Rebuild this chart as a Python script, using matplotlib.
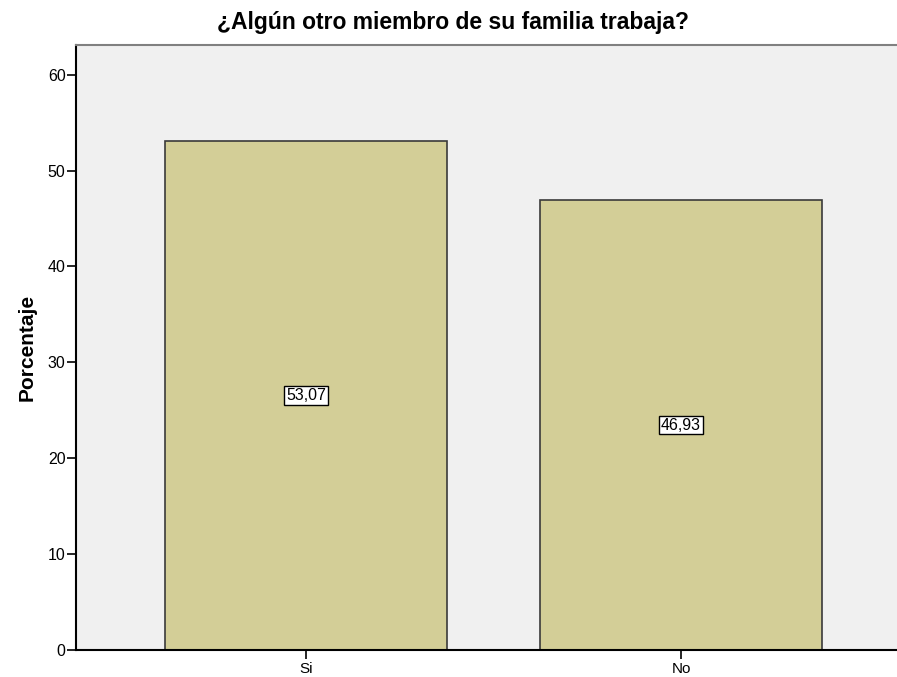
import numpy as np
import matplotlib.pyplot as plt

categorias = ['Si', 'No']
porcentajes = [53.07, 46.93]
etiquetas = ['53,07', '46,93']

plt.rcParams['font.family'] = ['Liberation Sans', 'DejaVu Sans']

fig = plt.figure(figsize=(8.97, 6.77), dpi=100)
ax = fig.add_axes([0.0847, 0.0399, 0.9153, 0.8936])
ax.set_facecolor('#F0F0F0')

x = np.arange(len(categorias))
ax.bar(x, porcentajes, width=0.75, color='#D3CE97', edgecolor='#3a3a3a', linewidth=1.2)

for xi, v, t in zip(x, porcentajes, etiquetas):
    ax.text(xi, v / 2, t, ha='center', va='center', fontsize=11.5,
            bbox=dict(boxstyle='square,pad=0.12', facecolor='white', edgecolor='black', linewidth=1))

ax.set_xlim(-0.613, 1.576)
ax.set_ylim(0, 63.1)
ax.set_xticks(x)
ax.set_xticklabels(categorias, fontsize=11)
ax.set_yticks(np.arange(0, 61, 10))
ax.tick_params(axis='y', labelsize=11.5, length=6.5, width=1.2, pad=1)
ax.tick_params(axis='x', length=6.5, width=1.2, pad=2)

ax.spines['right'].set_visible(False)
ax.spines['top'].set_color('#808080')
ax.spines['top'].set_linewidth(1.5)
ax.spines['left'].set_linewidth(1.5)
ax.spines['bottom'].set_linewidth(1.5)

ax.set_ylabel('Porcentaje', fontsize=15, fontweight='bold', labelpad=8)
fig.text(0.505, 0.967, '¿Algún otro miembro de su familia trabaja?', ha='center', va='center',
         fontsize=16.5, fontweight='bold')

fig.savefig('out.png', dpi=100)
